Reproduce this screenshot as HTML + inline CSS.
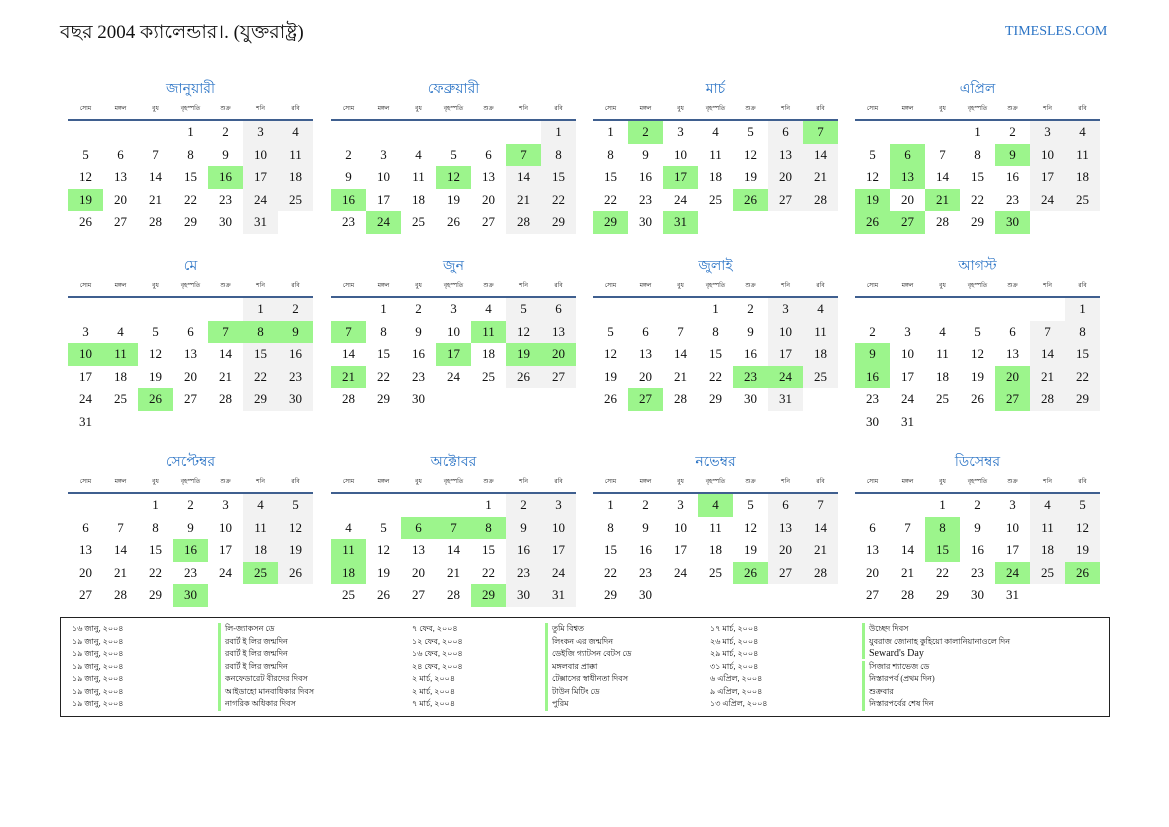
<!DOCTYPE html><html><head><meta charset="utf-8"><style>
body{margin:0;width:1169px;height:827px;background:#fff;position:relative;font-family:"Liberation Serif","Noto Sans CJK SC",serif;color:#111;overflow:hidden}
.t{position:absolute;left:60px;top:18px;font-size:19px}
.s{position:absolute;left:1005px;top:24px;font-size:14px;color:#2a73c5}
.m{position:absolute;width:245px}
.m h2{margin:0;position:absolute;top:-44px;width:245px;text-align:center;font-weight:normal;font-size:14px;color:#2a73c5}
.hd{position:absolute;top:-18px;width:245px;display:flex;font-size:6px}
.hd span{width:35px;text-align:center}
.ln{position:absolute;top:-2px;width:245px;height:2px;background:#3f5f8f}
.g{position:absolute;top:0px;display:grid;grid-template-columns:repeat(7,35px);grid-auto-rows:22.5px}
.g b{font-weight:normal;font-size:13px;text-align:center;line-height:22.5px}
.g b.w{background:#f2f2f2}.g b.h{background:#9cf58c}
.lg{position:absolute;left:60px;top:617px;width:1048px;height:98px;border:1.5px solid #222}
.lg div{position:absolute;font-size:8px;white-space:nowrap}
.lg .k{border-left:3px solid #9cf58c;padding-left:4px}
</style></head><body>
<div class="t">বছর 2004 ক্যালেন্ডার।. (যুক্তরাষ্ট্র)</div>
<div class="s">TIMESLES.COM</div>

<div class="m" style="left:68px;top:121px"><h2>জানুয়ারী</h2><div class="hd"><span>সোম</span><span>মঙ্গল</span><span>বুধ</span><span>বৃহস্পতি</span><span>শুক্র</span><span>শনি</span><span>রবি</span></div><div class="ln"></div><div class="g"><b></b><b></b><b></b><b>1</b><b>2</b><b class=w>3</b><b class=w>4</b><b>5</b><b>6</b><b>7</b><b>8</b><b>9</b><b class=w>10</b><b class=w>11</b><b>12</b><b>13</b><b>14</b><b>15</b><b class=h>16</b><b class=w>17</b><b class=w>18</b><b class=h>19</b><b>20</b><b>21</b><b>22</b><b>23</b><b class=w>24</b><b class=w>25</b><b>26</b><b>27</b><b>28</b><b>29</b><b>30</b><b class=w>31</b></div></div>

<div class="m" style="left:331px;top:121px"><h2>ফেব্রুয়ারী</h2><div class="hd"><span>সোম</span><span>মঙ্গল</span><span>বুধ</span><span>বৃহস্পতি</span><span>শুক্র</span><span>শনি</span><span>রবি</span></div><div class="ln"></div><div class="g"><b></b><b></b><b></b><b></b><b></b><b></b><b class=w>1</b><b>2</b><b>3</b><b>4</b><b>5</b><b>6</b><b class=h>7</b><b class=w>8</b><b>9</b><b>10</b><b>11</b><b class=h>12</b><b>13</b><b class=w>14</b><b class=w>15</b><b class=h>16</b><b>17</b><b>18</b><b>19</b><b>20</b><b class=w>21</b><b class=w>22</b><b>23</b><b class=h>24</b><b>25</b><b>26</b><b>27</b><b class=w>28</b><b class=w>29</b></div></div>

<div class="m" style="left:593px;top:121px"><h2>মার্চ</h2><div class="hd"><span>সোম</span><span>মঙ্গল</span><span>বুধ</span><span>বৃহস্পতি</span><span>শুক্র</span><span>শনি</span><span>রবি</span></div><div class="ln"></div><div class="g"><b>1</b><b class=h>2</b><b>3</b><b>4</b><b>5</b><b class=w>6</b><b class=h>7</b><b>8</b><b>9</b><b>10</b><b>11</b><b>12</b><b class=w>13</b><b class=w>14</b><b>15</b><b>16</b><b class=h>17</b><b>18</b><b>19</b><b class=w>20</b><b class=w>21</b><b>22</b><b>23</b><b>24</b><b>25</b><b class=h>26</b><b class=w>27</b><b class=w>28</b><b class=h>29</b><b>30</b><b class=h>31</b></div></div>

<div class="m" style="left:855px;top:121px"><h2>এপ্রিল</h2><div class="hd"><span>সোম</span><span>মঙ্গল</span><span>বুধ</span><span>বৃহস্পতি</span><span>শুক্র</span><span>শনি</span><span>রবি</span></div><div class="ln"></div><div class="g"><b></b><b></b><b></b><b>1</b><b>2</b><b class=w>3</b><b class=w>4</b><b>5</b><b class=h>6</b><b>7</b><b>8</b><b class=h>9</b><b class=w>10</b><b class=w>11</b><b>12</b><b class=h>13</b><b>14</b><b>15</b><b>16</b><b class=w>17</b><b class=w>18</b><b class=h>19</b><b>20</b><b class=h>21</b><b>22</b><b>23</b><b class=w>24</b><b class=w>25</b><b class=h>26</b><b class=h>27</b><b>28</b><b>29</b><b class=h>30</b></div></div>

<div class="m" style="left:68px;top:298px"><h2>মে</h2><div class="hd"><span>সোম</span><span>মঙ্গল</span><span>বুধ</span><span>বৃহস্পতি</span><span>শুক্র</span><span>শনি</span><span>রবি</span></div><div class="ln"></div><div class="g"><b></b><b></b><b></b><b></b><b></b><b class=w>1</b><b class=w>2</b><b>3</b><b>4</b><b>5</b><b>6</b><b class=h>7</b><b class=h>8</b><b class=h>9</b><b class=h>10</b><b class=h>11</b><b>12</b><b>13</b><b>14</b><b class=w>15</b><b class=w>16</b><b>17</b><b>18</b><b>19</b><b>20</b><b>21</b><b class=w>22</b><b class=w>23</b><b>24</b><b>25</b><b class=h>26</b><b>27</b><b>28</b><b class=w>29</b><b class=w>30</b><b>31</b></div></div>

<div class="m" style="left:331px;top:298px"><h2>জুন</h2><div class="hd"><span>সোম</span><span>মঙ্গল</span><span>বুধ</span><span>বৃহস্পতি</span><span>শুক্র</span><span>শনি</span><span>রবি</span></div><div class="ln"></div><div class="g"><b></b><b>1</b><b>2</b><b>3</b><b>4</b><b class=w>5</b><b class=w>6</b><b class=h>7</b><b>8</b><b>9</b><b>10</b><b class=h>11</b><b class=w>12</b><b class=w>13</b><b>14</b><b>15</b><b>16</b><b class=h>17</b><b>18</b><b class=h>19</b><b class=h>20</b><b class=h>21</b><b>22</b><b>23</b><b>24</b><b>25</b><b class=w>26</b><b class=w>27</b><b>28</b><b>29</b><b>30</b></div></div>

<div class="m" style="left:593px;top:298px"><h2>জুলাই</h2><div class="hd"><span>সোম</span><span>মঙ্গল</span><span>বুধ</span><span>বৃহস্পতি</span><span>শুক্র</span><span>শনি</span><span>রবি</span></div><div class="ln"></div><div class="g"><b></b><b></b><b></b><b>1</b><b>2</b><b class=w>3</b><b class=w>4</b><b>5</b><b>6</b><b>7</b><b>8</b><b>9</b><b class=w>10</b><b class=w>11</b><b>12</b><b>13</b><b>14</b><b>15</b><b>16</b><b class=w>17</b><b class=w>18</b><b>19</b><b>20</b><b>21</b><b>22</b><b class=h>23</b><b class=h>24</b><b class=w>25</b><b>26</b><b class=h>27</b><b>28</b><b>29</b><b>30</b><b class=w>31</b></div></div>

<div class="m" style="left:855px;top:298px"><h2>আগস্ট</h2><div class="hd"><span>সোম</span><span>মঙ্গল</span><span>বুধ</span><span>বৃহস্পতি</span><span>শুক্র</span><span>শনি</span><span>রবি</span></div><div class="ln"></div><div class="g"><b></b><b></b><b></b><b></b><b></b><b></b><b class=w>1</b><b>2</b><b>3</b><b>4</b><b>5</b><b>6</b><b class=w>7</b><b class=w>8</b><b class=h>9</b><b>10</b><b>11</b><b>12</b><b>13</b><b class=w>14</b><b class=w>15</b><b class=h>16</b><b>17</b><b>18</b><b>19</b><b class=h>20</b><b class=w>21</b><b class=w>22</b><b>23</b><b>24</b><b>25</b><b>26</b><b class=h>27</b><b class=w>28</b><b class=w>29</b><b>30</b><b>31</b></div></div>

<div class="m" style="left:68px;top:494px"><h2>সেপ্টেম্বর</h2><div class="hd"><span>সোম</span><span>মঙ্গল</span><span>বুধ</span><span>বৃহস্পতি</span><span>শুক্র</span><span>শনি</span><span>রবি</span></div><div class="ln"></div><div class="g"><b></b><b></b><b>1</b><b>2</b><b>3</b><b class=w>4</b><b class=w>5</b><b>6</b><b>7</b><b>8</b><b>9</b><b>10</b><b class=w>11</b><b class=w>12</b><b>13</b><b>14</b><b>15</b><b class=h>16</b><b>17</b><b class=w>18</b><b class=w>19</b><b>20</b><b>21</b><b>22</b><b>23</b><b>24</b><b class=h>25</b><b class=w>26</b><b>27</b><b>28</b><b>29</b><b class=h>30</b></div></div>

<div class="m" style="left:331px;top:494px"><h2>অক্টোবর</h2><div class="hd"><span>সোম</span><span>মঙ্গল</span><span>বুধ</span><span>বৃহস্পতি</span><span>শুক্র</span><span>শনি</span><span>রবি</span></div><div class="ln"></div><div class="g"><b></b><b></b><b></b><b></b><b>1</b><b class=w>2</b><b class=w>3</b><b>4</b><b>5</b><b class=h>6</b><b class=h>7</b><b class=h>8</b><b class=w>9</b><b class=w>10</b><b class=h>11</b><b>12</b><b>13</b><b>14</b><b>15</b><b class=w>16</b><b class=w>17</b><b class=h>18</b><b>19</b><b>20</b><b>21</b><b>22</b><b class=w>23</b><b class=w>24</b><b>25</b><b>26</b><b>27</b><b>28</b><b class=h>29</b><b class=w>30</b><b class=w>31</b></div></div>

<div class="m" style="left:593px;top:494px"><h2>নভেম্বর</h2><div class="hd"><span>সোম</span><span>মঙ্গল</span><span>বুধ</span><span>বৃহস্পতি</span><span>শুক্র</span><span>শনি</span><span>রবি</span></div><div class="ln"></div><div class="g"><b>1</b><b>2</b><b>3</b><b class=h>4</b><b>5</b><b class=w>6</b><b class=w>7</b><b>8</b><b>9</b><b>10</b><b>11</b><b>12</b><b class=w>13</b><b class=w>14</b><b>15</b><b>16</b><b>17</b><b>18</b><b>19</b><b class=w>20</b><b class=w>21</b><b>22</b><b>23</b><b>24</b><b>25</b><b class=h>26</b><b class=w>27</b><b class=w>28</b><b>29</b><b>30</b></div></div>

<div class="m" style="left:855px;top:494px"><h2>ডিসেম্বর</h2><div class="hd"><span>সোম</span><span>মঙ্গল</span><span>বুধ</span><span>বৃহস্পতি</span><span>শুক্র</span><span>শনি</span><span>রবি</span></div><div class="ln"></div><div class="g"><b></b><b></b><b>1</b><b>2</b><b>3</b><b class=w>4</b><b class=w>5</b><b>6</b><b>7</b><b class=h>8</b><b>9</b><b>10</b><b class=w>11</b><b class=w>12</b><b>13</b><b>14</b><b class=h>15</b><b>16</b><b>17</b><b class=w>18</b><b class=w>19</b><b>20</b><b>21</b><b>22</b><b>23</b><b class=h>24</b><b class=w>25</b><b class=h>26</b><b>27</b><b>28</b><b>29</b><b>30</b><b>31</b></div></div>

<div class="lg">
<div style="left:11px;top:5px">১৬ জানু, ২০০৪</div><div class="k" style="left:157px;top:5px">লি-জ্যাকসন ডে</div><div style="left:351px;top:5px">৭ ফেব, ২০০৪</div><div class="k" style="left:484px;top:5px">তুমি বিশ্বত</div><div style="left:649px;top:5px">১৭ মার্চ, ২০০৪</div><div class="k" style="left:801px;top:5px">উচ্ছেদ দিবস</div>
<div style="left:11px;top:17.5px">১৯ জানু, ২০০৪</div><div class="k" style="left:157px;top:17.5px">রবার্ট ই লির জন্মদিন</div><div style="left:351px;top:17.5px">১২ ফেব, ২০০৪</div><div class="k" style="left:484px;top:17.5px">লিংকন এর জন্মদিন</div><div style="left:649px;top:17.5px">২৬ মার্চ, ২০০৪</div><div class="k" style="left:801px;top:17.5px">যুবরাজ জোনাহ কুহিয়ো কালানিয়ানাওলে দিন</div>
<div style="left:11px;top:30px">১৯ জানু, ২০০৪</div><div class="k" style="left:157px;top:30px">রবার্ট ই লির জন্মদিন</div><div style="left:351px;top:30px">১৬ ফেব, ২০০৪</div><div class="k" style="left:484px;top:30px">ডেইজি গ্যাটসন বেটস ডে</div><div style="left:649px;top:30px">২৯ মার্চ, ২০০৪</div><div class="k" style="left:801px;top:30px;font-size:10px">Seward's Day</div>
<div style="left:11px;top:42.5px">১৯ জানু, ২০০৪</div><div class="k" style="left:157px;top:42.5px">রবার্ট ই লির জন্মদিন</div><div style="left:351px;top:42.5px">২৪ ফেব, ২০০৪</div><div class="k" style="left:484px;top:42.5px">মঙ্গলবার প্রাক্কা</div><div style="left:649px;top:42.5px">৩১ মার্চ, ২০০৪</div><div class="k" style="left:801px;top:42.5px">সিজার শ্যাভেজ ডে</div>
<div style="left:11px;top:55px">১৯ জানু, ২০০৪</div><div class="k" style="left:157px;top:55px">কনফেডারেট বীরদের দিবস</div><div style="left:351px;top:55px">২ মার্চ, ২০০৪</div><div class="k" style="left:484px;top:55px">টেক্সাসের স্বাধীনতা দিবস</div><div style="left:649px;top:55px">৬ এপ্রিল, ২০০৪</div><div class="k" style="left:801px;top:55px">নিস্তারপর্ব (প্রথম দিন)</div>
<div style="left:11px;top:67.5px">১৯ জানু, ২০০৪</div><div class="k" style="left:157px;top:67.5px">আইডাহো মানবাধিকার দিবস</div><div style="left:351px;top:67.5px">২ মার্চ, ২০০৪</div><div class="k" style="left:484px;top:67.5px">টাউন মিটিং ডে</div><div style="left:649px;top:67.5px">৯ এপ্রিল, ২০০৪</div><div class="k" style="left:801px;top:67.5px">শুক্রবার</div>
<div style="left:11px;top:80px">১৯ জানু, ২০০৪</div><div class="k" style="left:157px;top:80px">নাগরিক অধিকার দিবস</div><div style="left:351px;top:80px">৭ মার্চ, ২০০৪</div><div class="k" style="left:484px;top:80px">পুরিম</div><div style="left:649px;top:80px">১৩ এপ্রিল, ২০০৪</div><div class="k" style="left:801px;top:80px">নিস্তারপর্বের শেষ দিন</div>
</div>
</body></html>
